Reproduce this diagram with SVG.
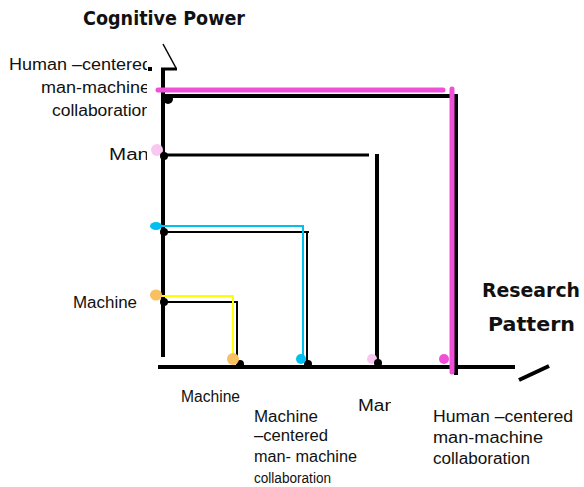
<svg xmlns="http://www.w3.org/2000/svg" width="584" height="487" viewBox="0 0 584 487">
<style>
.lbl{font-family:"Liberation Sans",Arial,sans-serif;font-size:16px;fill:#111;}
.ttl{font-family:"DejaVu Sans",sans-serif;font-weight:bold;font-size:19px;fill:#111;}
.k{stroke:#000;fill:none;stroke-linecap:butt;}
.pk{stroke:#f050d8;fill:none;stroke-linecap:round;}
</style>
<defs>
<clipPath id="clipL"><rect x="0" y="40" width="147" height="300"/></clipPath>
<clipPath id="clipMan"><rect x="340" y="380" width="51" height="40"/></clipPath>
</defs>
<rect width="584" height="487" fill="#fff"/>

<g id="axes">
<line class="k" x1="163" y1="68" x2="163" y2="357" stroke-width="4"/>
<line class="k" x1="161" y1="69" x2="177" y2="69" stroke-width="3"/>
<line class="k" x1="163" y1="44" x2="176" y2="68" stroke-width="1.5"/>
<rect x="148" y="67" width="4" height="4" fill="#000"/>
<line class="k" x1="158" y1="367" x2="515" y2="367" stroke-width="4"/>
<line class="k" x1="519" y1="380" x2="549" y2="366" stroke-width="4"/>
</g>

<g id="machine-path">
<line class="k" x1="163" y1="302" x2="237" y2="302" stroke-width="2"/>
<line class="k" x1="237" y1="301" x2="237" y2="365" stroke-width="2"/>
<polyline points="157,296 233,296 233,357" stroke="#ffff00" stroke-width="2" fill="none"/>
<circle cx="164" cy="302" r="4" fill="#000"/>
<circle cx="240" cy="364" r="4" fill="#000"/>
<ellipse cx="156" cy="295" rx="6" ry="5.5" fill="#f8c060"/>
<circle cx="233" cy="359" r="6" fill="#f8c060"/>
</g>

<g id="machine-centered-path">
<line class="k" x1="163" y1="232" x2="309" y2="232" stroke-width="2"/>
<line class="k" x1="307" y1="231" x2="307" y2="365" stroke-width="2"/>
<polyline points="156,226 303,226 303,359" stroke="#00c0f0" stroke-width="2" fill="none"/>
<circle cx="164" cy="232" r="4" fill="#000"/>
<circle cx="308" cy="364" r="4" fill="#000"/>
<ellipse cx="156" cy="226" rx="6" ry="4" fill="#00c0f0"/>
<circle cx="301" cy="359" r="5" fill="#00c0f0"/>
</g>

<g id="man-path">
<line class="k" x1="163" y1="155" x2="369" y2="155" stroke-width="3"/>
<line class="k" x1="377" y1="154" x2="377" y2="367" stroke-width="4"/>
<circle cx="157" cy="150" r="6" fill="#f8c8f0"/>
<circle cx="164" cy="156" r="4" fill="#000"/>
<circle cx="372" cy="359" r="5" fill="#f8c8f0"/>
<circle cx="378" cy="363" r="4" fill="#000"/>
</g>

<g id="human-centered-path">
<line class="k" x1="161" y1="96" x2="458" y2="96" stroke-width="4"/>
<line class="k" x1="456" y1="94" x2="456" y2="375" stroke-width="4"/>
<line class="pk" x1="158" y1="90" x2="443" y2="90" stroke-width="5"/>
<line class="pk" x1="452" y1="89" x2="452" y2="372" stroke-width="5"/>
<circle cx="168" cy="99" r="5" fill="#000"/>
<circle cx="444" cy="359" r="5" fill="#f050d8"/>
</g>

<g id="titles">
<text class="ttl" x="83" y="25" textLength="162" lengthAdjust="spacingAndGlyphs">Cognitive Power</text>
<text class="ttl" x="482" y="297" textLength="98" lengthAdjust="spacingAndGlyphs">Research</text>
<text class="ttl" x="488" y="331" textLength="87" lengthAdjust="spacingAndGlyphs">Pattern</text>
</g>

<g id="y-labels" clip-path="url(#clipL)">
<text class="lbl" x="9" y="70" textLength="143" lengthAdjust="spacingAndGlyphs">Human –centered</text>
<text class="lbl" x="41" y="93" textLength="109" lengthAdjust="spacingAndGlyphs">man-machine</text>
<text class="lbl" x="52" y="116" textLength="99" lengthAdjust="spacingAndGlyphs">collaboration</text>
<text class="lbl" x="109" y="160" textLength="40" lengthAdjust="spacingAndGlyphs">Man</text>
<text class="lbl" x="73" y="308" textLength="64" lengthAdjust="spacingAndGlyphs">Machine</text>
</g>

<g id="x-labels">
<text class="lbl" x="181" y="402" textLength="59" lengthAdjust="spacingAndGlyphs">Machine</text>
<text class="lbl" x="254" y="422" textLength="64" lengthAdjust="spacingAndGlyphs">Machine</text>
<text class="lbl" x="254" y="441" textLength="74" lengthAdjust="spacingAndGlyphs">–centered</text>
<text class="lbl" x="254" y="462" textLength="103" lengthAdjust="spacingAndGlyphs">man- machine</text>
<text class="lbl" x="254" y="483" textLength="77" lengthAdjust="spacingAndGlyphs" style="font-size:14px">collaboration</text>
<text class="lbl" x="358" y="411" textLength="37" lengthAdjust="spacingAndGlyphs" clip-path="url(#clipMan)">Man</text>
<text class="lbl" x="433" y="422" textLength="140" lengthAdjust="spacingAndGlyphs">Human –centered</text>
<text class="lbl" x="433" y="443" textLength="110" lengthAdjust="spacingAndGlyphs">man-machine</text>
<text class="lbl" x="433" y="464" textLength="97" lengthAdjust="spacingAndGlyphs">collaboration</text>
</g>
</svg>
